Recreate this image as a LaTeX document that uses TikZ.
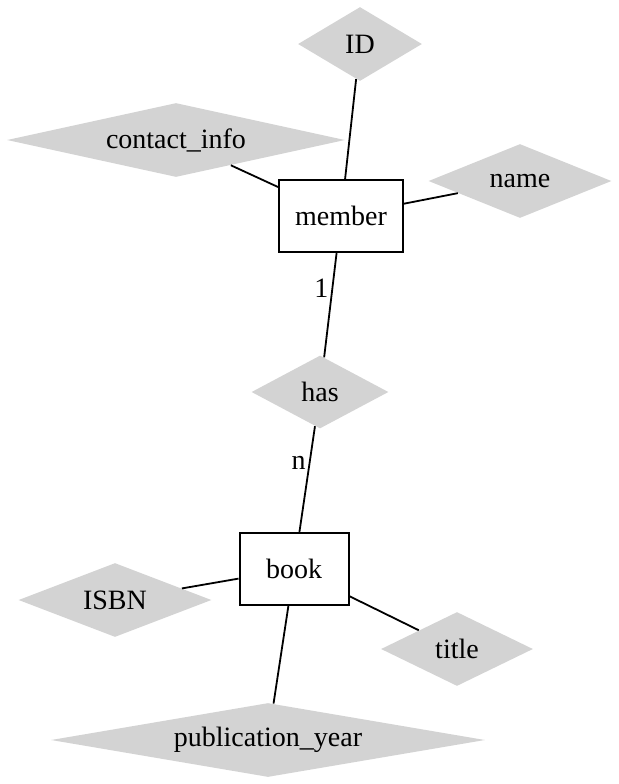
\documentclass[tikz,border=0pt]{standalone}
\usepackage{fontspec}
\setmainfont{Liberation Serif}
\usetikzlibrary{shapes.geometric}
\definecolor{attrgray}{RGB}{211,211,211}
\tikzset{
  attr/.style={diamond, fill=attrgray, draw=none, inner sep=0pt,
    minimum width=#1, minimum height=37pt},
  entity/.style={rectangle, draw=black, line width=1pt, inner sep=0pt,
    minimum height=36pt, font=\fontsize{14pt}{16pt}\selectfont},
  lbl/.style={font=\fontsize{14pt}{16pt}\selectfont, inner sep=0pt},
  conn/.style={line width=0.9pt},
  card/.style={font=\fontsize{14pt}{16pt}\selectfont, inner sep=1.5pt, anchor=east}
}
\begin{document}
\begin{tikzpicture}[x=0.5pt,y=-0.5pt]
\useasboundingbox (0,0) rectangle (618,784);
\node[entity, minimum width=62pt] (member) at (341,216) {member};
\node[entity, minimum width=54.5pt] (book) at (294,569) {book};
\node[attr=62pt, label={[lbl]center:ID}] (id) at (360,44) {};
\node[attr=169pt, label={[lbl]center:contact\_info}] (ci) at (176,140) {};
\node[attr=91.5pt, label={[lbl]center:name}] (name) at (520,181) {};
\node[attr=68.5pt, minimum height=36.5pt, label={[lbl]center:has}] (has) at (320,392) {};
\node[attr=96.5pt, label={[lbl]center:ISBN}] (isbn) at (115,600) {};
\node[attr=76pt, label={[lbl]center:title}] (title) at (457,649) {};
\node[attr=217pt, label={[lbl]center:publication\_year}] (py) at (268,740) {};
\draw[conn] (id) -- (member);
\draw[conn] (ci) -- (member);
\draw[conn] (name) -- (member);
\draw[conn] (member) -- node[card, pos=0.34] {1} (has);
\draw[conn] (has) -- node[card, pos=0.35] {n} (book);
\draw[conn] (isbn) -- (book);
\draw[conn] (book) -- (title);
\draw[conn] (book) -- (py);
\end{tikzpicture}
\end{document}
